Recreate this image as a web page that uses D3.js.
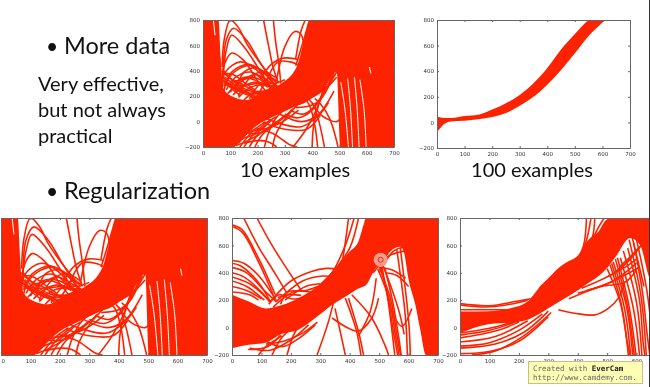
<!DOCTYPE html>
<html>
<head>
<meta charset="utf-8">
<script src="https://cdn.jsdelivr.net/npm/d3@7"></script>
<style>
html, body { margin: 0; background: #fff; overflow: hidden; }
svg { display: block; filter: blur(0.55px); }
text { font-family: Lato, "Open Sans", sans-serif; fill: #111; }
.tick text { font-family: "DejaVu Sans", sans-serif; font-size: 5.5px; fill: #333; }
.domain, .tick line { stroke: #666; }
</style>
</head>
<body>
<svg></svg>
<script>
const xTicks = [0, 100, 200, 300, 400, 500, 600, 700];
const yTicks = [-200, 0, 200, 400, 600, 800];

// dense part of the fits (x, lower, upper)
const fewX = [0, 57, 65, 75, 110, 160, 198, 235, 283, 345, 368, 393, 441, 490, 503, 700];
const fewLo = [-200, -200, -200, -200, -200, -100, -30, 15, 63, 125, 142, 175, 250, 392, -200, -200];
const fewHi = [800, 800, 500, 260, 195, 170, 210, 250, 295, 440, 620, 800, 800, 800, 800, 800];

const manyX = [0, 10, 25, 50, 100, 150, 200, 250, 300, 350, 400, 450, 500, 550, 600, 610];
const manyLo = [-75, -50, -15, 8, 13, 25, 42, 73, 130, 200, 295, 410, 540, 675, 780, 800];
const manyHi = [47, 40, 35, 34, 50, 60, 100, 150, 215, 305, 425, 570, 690, 800, 850, 860];

const regX = [0, 57, 113, 170, 226, 283, 340, 396, 430, 447, 455, 487, 510, 540, 572, 583, 600, 623, 640, 659, 700];
const regLo = [-150, -125, -110, -45, -15, 70, 165, 240, 285, 300, 310, 435, 480, 560, 590, 560, 350, 166, -20, -200, -200];
const regHi = [240, 190, 140, 165, 215, 290, 410, 545, 630, 750, 800, 800, 800, 800, 800, 800, 800, 800, 800, 800, 800];

const strongX = [0, 96, 187, 232, 277, 300, 334, 357, 402, 436, 470, 500, 530, 578, 612, 640, 660];
const strongLo = [-40, 25, 40, 60, 110, 141, 185, 215, 275, 325, 375, 435, 520, 654, 603, 384, 250];
const strongHi = [117, 120, 150, 195, 312, 360, 434, 470, 530, 640, 700, 790, 800, 800, 800, 800, 800];

// single curves that stand out from the dense part
const fewCurves = [
    [[70, 430], [78, 650], [100, 800], [130, 740], [160, 615], [210, 460], [270, 300]],
    [[75, 380], [85, 640], [112, 735], [160, 640], [205, 480], [258, 300]],
    [[72, 340], [85, 560], [105, 680], [150, 590], [200, 430], [245, 280]],
    [[68, 300], [80, 460], [106, 540], [150, 480], [197, 330], [230, 240]],
    [[70, 250], [82, 390], [137, 470], [197, 405], [250, 260]],
    [[75, 230], [105, 390], [170, 450], [230, 370], [270, 270]],
    [[80, 300], [120, 400], [180, 440], [235, 360], [265, 270]],
    [[72, 360], [100, 290], [150, 240], [200, 190]],
    [[72, 410], [110, 320], [160, 250], [220, 220]],
    [[75, 300], [115, 260], [160, 220], [190, 170]],
    [[90, 220], [130, 300], [190, 370], [240, 320], [280, 270]],
    [[130, 200], [170, 340], [220, 395], [270, 340]],
    [[120, 240], [150, 390], [200, 420], [260, 320]],
    [[170, 180], [210, 300], [250, 340], [275, 310]],
    [[222, 800], [240, 600], [258, 420], [277, 300]],
    [[258, 800], [265, 650], [278, 450], [285, 300]],
    [[210, 330], [250, 450], [295, 500], [350, 490]],
    [[230, 310], [275, 470], [320, 470], [355, 440]],
    [[270, 330], [300, 590], [335, 708], [358, 690], [372, 560]],
    [[340, 500], [360, 720], [375, 800]],
    [[340, 440], [370, 650], [390, 800]],
    [[370, 600], [395, 700], [420, 800]],
    [[380, 620], [425, 720], [440, 800]],
    [[135, -200], [160, -130], [190, -60], [230, 0]],
    [[150, -200], [185, -100], [225, -20], [270, 40]],
    [[225, -200], [240, -90], [265, 20], [300, 100]],
    [[255, -200], [265, -110], [300, 20], [345, 130]],
    [[195, -50], [258, -95], [320, -185], [345, -200]],
    [[225, 30], [290, -20], [360, -40], [420, 40], [460, 150]],
    [[220, -10], [300, -60], [380, -60], [430, 50]],
    [[330, -200], [375, -70], [415, 90], [440, 250]],
    [[400, -200], [405, -40], [425, 140], [450, 260]],
    [[420, -200], [410, -30], [390, 130], [375, 170]],
    [[445, -200], [425, 0], [405, 130], [390, 170]],
    [[495, -200], [465, 20], [430, 140], [410, 180]],
    [[400, 150], [440, 40], [490, 0], [505, 30]],
    [[280, 60], [360, 0], [420, 50], [480, 240]],
    [[440, 230], [470, 320], [500, 430]],
    [[420, 240], [450, 330], [485, 410]],
    [[405, 200], [450, 260], [490, 350]],
    // speckled part above the band
    [[68, 400], [100, 340], [140, 300], [190, 240], [240, 240]],
    [[70, 380], [110, 370], [150, 310], [190, 250]],
    [[72, 320], [110, 290], [160, 290], [210, 300], [255, 280]],
    [[75, 280], [120, 320], [170, 340], [230, 290], [270, 280]],
    [[80, 350], [130, 270], [180, 220], [230, 230]],
    [[85, 250], [120, 350], [175, 390], [225, 320], [260, 260]],
    [[100, 230], [140, 340], [200, 340], [245, 270]],
    [[110, 210], [150, 280], [190, 310], [240, 270]],
    [[90, 300], [140, 230], [190, 200], [240, 230]],
    [[130, 190], [175, 270], [220, 290], [260, 265]],
    [[75, 330], [105, 260], [135, 210]],
    [[150, 170], [185, 230], [225, 240], [270, 290]],
    [[200, 200], [230, 300], [260, 300], [300, 330]],
    // speckled part below the band
    [[110, -200], [150, -130], [190, -100], [230, -30]],
    [[130, -170], [170, -80], [210, -60], [250, 10]],
    [[120, -190], [165, -150], [205, -100], [240, -50]],
    [[170, -200], [195, -120], [230, -60], [280, 10]],
    [[190, -200], [215, -110], [250, -40], [300, 50]],
    [[160, -90], [210, -90], [260, -30], [330, 100]],
    [[150, -170], [200, -150], [240, -160], [270, -200]],
    [[180, -70], [240, -50], [300, 10], [350, 90]],
    [[300, 60], [350, 30], [400, 90], [440, 220]],
    [[320, 90], [370, 60], [420, 150], [450, 280]],
    [[340, 110], [400, 130], [440, 200], [480, 380]],
    [[410, 220], [440, 290], [470, 370]],
    [[430, 170], [460, 300], [480, 400]]
];

const fewGaps = [
    [[505, 310], [520, 100], [533, -200]],
    [[530, 340], [540, 120], [548, -200]],
    [[555, 350], [565, 100], [572, -200]],
    [[575, 330], [590, 100], [598, -200]],
    [[610, 430], [615, 380]],
    [[38, 800], [44, 680]]
];

const regCurves = [
    [[0, 750], [34, 715], [90, 507], [147, 240]],
    [[0, 738], [35, 695], [90, 480], [140, 240]],
    [[40, 800], [90, 590], [142, 410], [187, 250]],
    [[85, 800], [125, 640], [170, 483], [238, 263]],
    [[0, 490], [40, 470], [90, 380], [150, 200]],
    [[0, 470], [30, 450], [90, 330], [130, 190]],
    [[0, 440], [50, 400], [110, 270], [150, 190]],
    [[0, 400], [40, 370], [100, 260], [130, 180]],
    [[0, 370], [60, 320], [120, 210]],
    [[0, 340], [50, 300], [110, 200]],
    [[0, 300], [50, 270], [100, 210]],
    [[0, 260], [60, 240], [90, 200]],
    [[130, 190], [200, 340], [270, 410], [320, 432], [390, 420]],
    [[150, 190], [240, 340], [300, 375], [350, 370]],
    [[180, 200], [250, 300], [300, 320]],
    [[165, 170], [190, 260], [250, 270], [290, 300]],
    [[125, 170], [160, 240], [200, 210], [250, 220]],
    [[140, 150], [175, 215], [215, 265], [265, 260]],
    [[155, 220], [195, 240], [235, 235]],
    [[289, -200], [330, 60], [370, 420], [396, 800]],
    [[430, 800], [400, 580], [350, 420], [310, 280]],
    [[415, 800], [385, 600], [340, 400], [280, 250]],
    [[340, 380], [390, 520], [430, 600]],
    [[330, 360], [380, 490], [420, 580]],
    [[136, -200], [170, -70], [204, -5]],
    [[187, -200], [215, -30], [250, 50]],
    [[100, -80], [170, -140], [226, -80], [283, 20]],
    [[60, -150], [130, -165], [200, -90], [260, 20]],
    [[90, -200], [120, -130], [170, -60]],
    [[115, -120], [175, -100], [240, -40], [290, 40]],
    [[55, -160], [120, -140], [165, -55]],
    [[340, 70], [396, -5], [430, -25], [475, 70], [498, 215]],
    [[396, 215], [415, 80], [430, -30], [447, -200]],
    [[385, 215], [408, 80], [425, -40], [438, -200]],
    [[350, 140], [370, -50], [385, -200]],
    [[407, 240], [475, 70], [520, -130], [532, -200]],
    [[490, 360], [470, 120], [430, -60]],
    [[495, 430], [535, 200], [555, -50], [568, -200]],
    [[500, 440], [540, 200], [560, -50], [573, -200]],
    [[505, 440], [530, 220], [550, -50], [563, -200]],
    [[510, 440], [530, 200], [545, -50], [553, -200]],
    [[520, 430], [545, 200], [565, -50], [575, -200]],
    [[572, 580], [595, 165], [602, 0], [606, -200]],
    [[560, 570], [585, 170], [592, 0], [596, -200]],
    [[500, 400], [550, 560], [590, 590]],
    [[480, 400], [530, 520], [590, 560]],
    [[500, 440], [545, 420], [590, 360]],
    [[520, 400], [560, 380], [600, 300]],
    [[540, 130], [577, 10], [611, 140]],
    [[510, 470], [540, 300], [570, 100], [585, -50]],
    [[460, 340], [500, 480], [530, 540]]
];

const strongCurves = [
    [[0, 175], [100, 160], [187, 190], [240, 210]],
    [[0, 165], [90, 150], [170, 170], [230, 200]],
    [[0, 130], [80, 130], [190, 130]],
    [[0, -55], [100, -20], [200, 50]],
    [[0, -75], [120, -25], [200, 40]],
    [[0, -105], [120, -65], [230, 50]],
    [[0, -135], [100, -110], [200, -20], [280, 100]],
    [[0, -150], [120, -120], [220, -30], [300, 120]],
    [[0, -190], [100, -175], [200, -100], [300, 80]],
    [[40, -200], [120, -170], [210, -70], [310, 110]],
    [[0, -40], [100, -5], [210, 60]],
    [[395, 480], [420, 600], [430, 800]],
    [[405, 500], [430, 640], [445, 800]],
    [[420, 530], [450, 660], [458, 800]],
    [[440, 600], [470, 730], [490, 800]],
    [[334, 130], [390, 105], [458, 93], [504, 141], [538, 215], [560, 337]],
    [[413, 288], [538, 420], [606, 580]],
    [[430, 270], [520, 340], [600, 470]],
    [[400, 250], [500, 320], [610, 440]],
    [[370, 210], [480, 300], [560, 330], [600, 420]],
    [[500, 370], [560, 440], [600, 500]],
    [[510, 458], [550, 150], [572, -200]],
    [[500, 430], [545, 180], [568, -100], [578, -200]],
    [[520, 480], [565, 160], [587, -200]],
    [[535, 510], [575, 150], [598, -200]],
    [[545, 510], [590, 130], [610, -200]],
    [[570, 580], [610, 200], [622, -100], [628, -200]],
    [[590, 620], [620, 260], [636, -50], [645, -200]],
    [[600, 640], [635, 270], [655, -100]],
    [[585, 660], [612, 420], [625, 300]],
    [[515, 470], [558, 150], [580, -200]],
    [[528, 500], [570, 150], [592, -200]],
    [[555, 560], [600, 180], [618, -200]],
    [[575, 640], [615, 230], [633, -200]],
    [[530, 410], [570, 480], [612, 590]],
    [[540, 440], [580, 520], [625, 620]]
];

const cursor = {x: 505, y: 495};

// plot boxes on the page, left/right/top/bottom in pixels
const panels = [
    {band: [fewX, fewLo, fewHi], curves: fewCurves, gaps: fewGaps, box: [203, 394, 20, 147]},
    {band: [manyX, manyLo, manyHi], curves: [], gaps: [], box: [437, 630, 20, 148]},
    {band: [fewX, fewLo, fewHi], curves: fewCurves, gaps: fewGaps, box: [1, 207, 218, 355], hideY: true},
    {band: [regX, regLo, regHi], curves: regCurves, gaps: [], box: [232, 438, 218, 355], mark: cursor},
    {band: [strongX, strongLo, strongHi], curves: strongCurves, gaps: [], box: [460, 666, 218, 355]}
];

const svg = d3.select("svg")
    .attr("width", 650)
    .attr("height", 387);

const red = "#fd2300";

panels.forEach((p, i) => {
    const [left, right, top, bottom] = p.box;
    const x = d3.scaleLinear().domain([0, 700]).range([left, right]);
    const y = d3.scaleLinear().domain([-200, 800]).range([bottom, top]);

    const line = d3.line()
        .x(d => x(d[0]))
        .y(d => y(d[1]))
        .curve(d3.curveCatmullRom.alpha(0.5));

    const area = d3.area()
        .x(d => x(d))
        .y0((d, j) => y(p.band[1][j]))
        .y1((d, j) => y(p.band[2][j]))
        .curve(d3.curveMonotoneX);

    svg.append("clipPath")
        .attr("id", "plot" + i)
        .append("rect")
        .attr("x", left)
        .attr("y", top)
        .attr("width", right - left)
        .attr("height", bottom - top);

    const g = svg.append("g").attr("clip-path", "url(#plot" + i + ")");

    g.selectAll("path.fit")
        .data(p.curves)
        .join("path")
        .attr("class", "fit")
        .attr("fill", "none")
        .attr("stroke", red)
        .attr("stroke-width", 1.6)
        .attr("d", line);

    g.append("path")
        .datum(p.band[0])
        .attr("fill", red)
        .attr("d", area);

    g.selectAll("path.gap")
        .data(p.gaps)
        .join("path")
        .attr("class", "gap")
        .attr("fill", "none")
        .attr("stroke", "#fff")
        .attr("stroke-width", 1)
        .attr("d", line);

    if (p.mark) {
        g.append("circle")
            .attr("cx", x(p.mark.x))
            .attr("cy", y(p.mark.y))
            .attr("r", 7)
            .attr("fill", "#fb9a88");
        g.append("circle")
            .attr("cx", x(p.mark.x))
            .attr("cy", y(p.mark.y))
            .attr("r", 2.5)
            .attr("fill", "none")
            .attr("stroke", "#e0301a")
            .attr("stroke-width", 1);
    }

    // the last panel runs off the slide, so leave out ticks past the edge
    const shownX = xTicks.filter(d => x(d) < 648);

    // axes on all four sides, ticks point inwards like matplotlib
    const bottomAxis = svg.append("g")
        .attr("transform", "translate(0," + bottom + ")")
        .call(d3.axisBottom(x).tickValues(shownX).tickSizeInner(-2).tickSizeOuter(0).tickPadding(4));
    if (left < 5) {
        bottomAxis.select(".tick text").attr("text-anchor", "start");
    }
    svg.append("g")
        .attr("transform", "translate(0," + top + ")")
        .call(d3.axisTop(x).tickValues(shownX).tickSizeInner(-2).tickSizeOuter(0).tickFormat(""));
    svg.append("g")
        .attr("transform", "translate(" + left + ",0)")
        .call(d3.axisLeft(y).tickValues(yTicks).tickSizeInner(-2).tickSizeOuter(0).tickPadding(3)
            .tickFormat(d => p.hideY ? "" : (d < 0 ? "\u2212" + (-d) : d)));
    svg.append("g")
        .attr("transform", "translate(" + right + ",0)")
        .call(d3.axisRight(y).tickValues(yTicks).tickSizeInner(-2).tickSizeOuter(0).tickFormat(""));
});

// slide text
const label = (s, px, py, size, anchor) => svg.append("text")
    .attr("x", px)
    .attr("y", py)
    .attr("font-size", size)
    .attr("text-anchor", anchor || "start")
    .text(s);

label("\u2022", 46, 54, 21);
label("More data", 64, 54, 23.5);
label("\u2022", 46, 199, 21);
label("Regularization", 64, 199, 23.5);
label("Very effective,", 38, 91, 20);
label("but not always", 38, 117, 20);
label("practical", 38, 143, 20);
label("10 examples", 295, 177, 20, "middle");
label("100 examples", 532, 177, 20, "middle");

// recorder watermark and slide edge
svg.append("rect")
    .attr("x", 528.5)
    .attr("y", 361.5)
    .attr("width", 114)
    .attr("height", 22)
    .attr("fill", "#fdfdb4")
    .attr("stroke", "#c9bd8a");
svg.append("text")
    .attr("x", 533)
    .attr("y", 371)
    .attr("font-size", 7.5)
    .style("font-family", "DejaVu Sans Mono")
    .style("fill", "#666")
    .text("Created with ")
    .append("tspan")
    .style("font-weight", "bold")
    .style("fill", "#222")
    .text("EverCam");
svg.append("text")
    .attr("x", 533)
    .attr("y", 380)
    .attr("font-size", 7.5)
    .style("font-family", "DejaVu Sans Mono")
    .style("fill", "#666")
    .text("http://www.camdemy.com.");
svg.append("line")
    .attr("x1", 649.5)
    .attr("x2", 649.5)
    .attr("y1", 0)
    .attr("y2", 387)
    .attr("stroke", "#333");
</script>
</body>
</html>
